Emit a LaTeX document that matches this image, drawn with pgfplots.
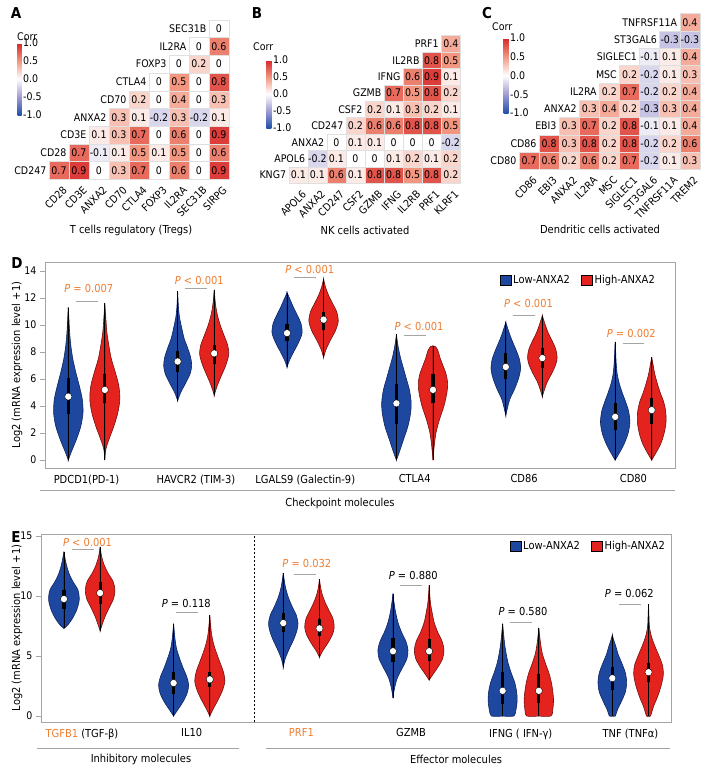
\documentclass[border=0pt]{standalone}
\usepackage{fontspec}
\setmainfont{DejaVu Sans Condensed}
\usepackage{pgfplots}
\usepackage{pgfplotstable}
\pgfplotsset{compat=1.18}
\definecolor{vblue}{RGB}{30,72,160}
\definecolor{vbluedk}{RGB}{15,35,95}
\definecolor{vred}{RGB}{228,35,30}
\definecolor{vreddk}{RGB}{115,15,15}
\definecolor{por}{RGB}{237,125,49}
\definecolor{frm}{RGB}{165,165,165}
\pgfkeys{/pgf/number format/assume math mode=true}
\pgfdeclareplotmark{cellA}{\pgfpathrectangle{\pgfpoint{-10pt}{-8.85pt}}{\pgfpoint{20pt}{17.7pt}}\pgfusepathqfillstroke}
\pgfdeclareplotmark{cellB}{\pgfpathrectangle{\pgfpoint{-9.525pt}{-8.2pt}}{\pgfpoint{19.05pt}{16.4pt}}\pgfusepathqfillstroke}
\pgfdeclareplotmark{cellC}{\pgfpathrectangle{\pgfpoint{-10.05pt}{-8.65pt}}{\pgfpoint{20.1pt}{17.3pt}}\pgfusepathqfillstroke}
\newcommand\pf{\fontsize{11}{13}\selectfont}
\newcommand\tf{\fontsize{10.5}{12}\selectfont}
\newcommand\violin[5]{%
 \addplot[fill=#3, draw=#4, line width=0.6pt, smooth] table[row sep=\\, x expr=#2+\thisrow{w}/109.5, y=y]{#5} -- cycle;
 \addplot[fill=#3, draw=#4, line width=0.6pt, smooth] table[row sep=\\, x expr=#2-\thisrow{w}/109.5, y=y]{#5} -- cycle;
}
\newcommand\vstat[6]{%
 \addplot[black, line width=0.7pt] coordinates {(#1,#2) (#1,#6)};
 \addplot[black, line width=3.2pt] coordinates {(#1,#3) (#1,#5)};
 \addplot[only marks, mark=*, mark size=3.6pt, mark options={fill=white, draw=none}] coordinates {(#1,#4)};
}
% correlation tables: x = column, y = row (0 = bottom), c = correlation
\pgfplotstableread{
x y c
0 0 0.7
1 0 0.9
2 0 0
3 0 0.3
4 0 0.7
5 0 0
6 0 0.6
7 0 0
8 0 0.9
1 1 0.7
2 1 -0.1
3 1 0.1
4 1 0.5
5 1 0.1
6 1 0.5
7 1 0
8 1 0.6
2 2 0.1
3 2 0.3
4 2 0.7
5 2 0
6 2 0.6
7 2 0
8 2 0.9
3 3 0.3
4 3 0.1
5 3 -0.2
6 3 0.3
7 3 -0.2
8 3 0.1
4 4 0.2
5 4 0
6 4 0.4
7 4 0
8 4 0.3
5 5 0
6 5 0.5
7 5 0
8 5 0.8
6 6 0
7 6 0.2
8 6 0
7 7 0
8 7 0.6
8 8 0
}\tabA
\pgfplotstableread{
x y c
0 0 0.1
1 0 0.1
2 0 0.6
3 0 0.1
4 0 0.8
5 0 0.8
6 0 0.5
7 0 0.8
8 0 0.2
1 1 -0.2
2 1 0.1
3 1 0
4 1 0
5 1 0.1
6 1 0.2
7 1 0.1
8 1 0.2
2 2 0
3 2 0.1
4 2 0.1
5 2 0
6 2 0
7 2 0
8 2 -0.2
3 3 0.2
4 3 0.6
5 3 0.6
6 3 0.8
7 3 0.8
8 3 0.5
4 4 0.2
5 4 0.1
6 4 0.3
7 4 0.2
8 4 0.1
5 5 0.7
6 5 0.5
7 5 0.8
8 5 0.2
6 6 0.6
7 6 0.9
8 6 0.1
7 7 0.8
8 7 0.5
8 8 0.4
}\tabB
\pgfplotstableread{
x y c
0 0 0.7
1 0 0.6
2 0 0.2
3 0 0.6
4 0 0.2
5 0 0.7
6 0 -0.2
7 0 0.1
8 0 0.3
1 1 0.8
2 1 0.3
3 1 0.8
4 1 0.2
5 1 0.8
6 1 -0.2
7 1 0.2
8 1 0.6
2 2 0.3
3 2 0.7
4 2 0.2
5 2 0.8
6 2 -0.1
7 2 0.1
8 2 0.4
3 3 0.3
4 3 0.4
5 3 0.2
6 3 -0.3
7 3 0.3
8 3 0.4
4 4 0.2
5 4 0.7
6 4 -0.2
7 4 0.2
8 4 0.4
5 5 0.2
6 5 -0.2
7 5 0.1
8 5 0.3
6 6 -0.1
7 6 0.1
8 6 0.4
7 7 -0.3
8 7 -0.3
8 8 0.4
}\tabC
\pgfplotsset{colormap={corr}{rgb255=(33,80,170) rgb255=(160,155,210) rgb255=(255,255,255) rgb255=(242,150,128) rgb255=(214,39,40)}}
\pgfplotsset{heat/.style={
  scale only axis, clip=false, anchor=south west,
  xmin=-0.5, xmax=8.5, ymin=-0.5, ymax=8.5,
  axis line style={draw=none}, major tick length=0pt,
  ytick=\empty, xtick={0,...,8},
  xticklabel style={xshift=6pt, yshift=-9pt, rotate=45, anchor=east, inner sep=0pt, font=\tf},
  colormap name=corr, point meta min=-1, point meta max=1,
  colorbar,
  colorbar style={scale only axis, ytick={-1,-0.5,0,0.5,1}, yticklabels={-1.0,-0.5,0.0,0.5,1.0},
    yticklabel pos=right, major tick length=0pt, axis line style={draw=none},
    yticklabel style={inner sep=1.5pt, font=\tf}, anchor=north west, at={(parent axis.south west)}},
}}
\pgfplotsset{hcell/.style={scatter, only marks, point meta=explicit,
  scatter/use mapped color={draw=black!12, fill=mapped color}}}
\pgfplotsset{htext/.style={draw=none, mark=none, point meta=explicit,
  nodes near coords={\pgfmathprintnumber[fixed,precision=1]{\pgfplotspointmeta}},
  every node near coord/.append style={anchor=center, text=black, font=\tf}}}
\pgfplotsset{vio/.style={scale only axis, anchor=south west, clip=false,
  axis line style={frm, line width=0.8pt},
  tick align=outside, ytick pos=left, major tick length=5pt,
  tick style={frm, line width=0.8pt},
  xtick={0,...,5}, xtick style={draw=none},
  xticklabel style={font=\pf, yshift=2pt},
  yticklabel style={font=\tf},
  legend cell align=left,
  legend style={draw=none, fill=none, legend columns=2, anchor=north east, font=\pf,
    /tikz/every even column/.append style={column sep=9pt}},
}}
\begin{document}
\tf
\begin{tikzpicture}
\useasboundingbox (0pt,0pt) rectangle (710pt,-772pt);
% ---------------- A
\begin{axis}[heat, at={(49pt,-179.2pt)}, width=180pt, height=159.3pt,
  xticklabels={CD28,CD3E,ANXA2,CD70,CTLA4,FOXP3,IL2RA,SEC31B,SIRPG},
  colorbar style={xshift=-40pt, yshift=136.2pt, width=4pt, height=72pt}]
\addplot[hcell, mark=cellA] table[meta=c]{\tabA};
\addplot[htext] table[meta=c]{\tabA};
\node[anchor=east, inner sep=2.5pt] at (axis cs:-0.5,0) {CD247};
\node[anchor=east, inner sep=2.5pt] at (axis cs:0.5,1) {CD28};
\node[anchor=east, inner sep=2.5pt] at (axis cs:1.5,2) {CD3E};
\node[anchor=east, inner sep=2.5pt] at (axis cs:2.5,3) {ANXA2};
\node[anchor=east, inner sep=2.5pt] at (axis cs:3.5,4) {CD70};
\node[anchor=east, inner sep=2.5pt] at (axis cs:4.5,5) {CTLA4};
\node[anchor=east, inner sep=2.5pt] at (axis cs:5.5,6) {FOXP3};
\node[anchor=east, inner sep=2.5pt] at (axis cs:6.5,7) {IL2RA};
\node[anchor=east, inner sep=2.5pt] at (axis cs:7.5,8) {SEC31B};
\end{axis}
% ---------------- B
\begin{axis}[heat, at={(288.8pt,-183.2pt)}, width=171.5pt, height=147.6pt,
  xticklabels={APOL6,ANXA2,CD247,CSF2,GZMB,IFNG,IL2RB,PRF1,KLRF1},
  colorbar style={xshift=-31pt, yshift=123.2pt, width=5pt, height=68pt}]
\addplot[hcell, mark=cellB] table[meta=c]{\tabB};
\addplot[htext] table[meta=c]{\tabB};
\node[anchor=east, inner sep=2.5pt] at (axis cs:-0.5,0) {KNG7};
\node[anchor=east, inner sep=2.5pt] at (axis cs:0.5,1) {APOL6};
\node[anchor=east, inner sep=2.5pt] at (axis cs:1.5,2) {ANXA2};
\node[anchor=east, inner sep=2.5pt] at (axis cs:2.5,3) {CD247};
\node[anchor=east, inner sep=2.5pt] at (axis cs:3.5,4) {CSF2};
\node[anchor=east, inner sep=2.5pt] at (axis cs:4.5,5) {GZMB};
\node[anchor=east, inner sep=2.5pt] at (axis cs:5.5,6) {IFNG};
\node[anchor=east, inner sep=2.5pt] at (axis cs:6.5,7) {IL2RB};
\node[anchor=east, inner sep=2.5pt] at (axis cs:7.5,8) {PRF1};
\end{axis}
% ---------------- C
\begin{axis}[heat, at={(519pt,-169.35pt)}, width=180.9pt, height=155.7pt,
  xticklabels={CD86,EBI3,ANXA2,IL2RA,MSC,SIGLEC1,ST3GAL6,TNFRSF11A,TREM2},
  colorbar style={xshift=-24pt, yshift=131.35pt, width=5pt, height=75pt}]
\addplot[hcell, mark=cellC] table[meta=c]{\tabC};
\addplot[htext] table[meta=c]{\tabC};
\node[anchor=east, inner sep=2.5pt] at (axis cs:-0.5,0) {CD80};
\node[anchor=east, inner sep=2.5pt] at (axis cs:0.5,1) {CD86};
\node[anchor=east, inner sep=2.5pt] at (axis cs:1.5,2) {EBI3};
\node[anchor=east, inner sep=2.5pt] at (axis cs:2.5,3) {ANXA2};
\node[anchor=east, inner sep=2.5pt] at (axis cs:3.5,4) {IL2RA};
\node[anchor=east, inner sep=2.5pt] at (axis cs:4.5,5) {MSC};
\node[anchor=east, inner sep=2.5pt] at (axis cs:5.5,6) {SIGLEC1};
\node[anchor=east, inner sep=2.5pt] at (axis cs:6.5,7) {ST3GAL6};
\node[anchor=east, inner sep=2.5pt] at (axis cs:7.5,8) {TNFRSF11A};
\end{axis}
% ---------------- D
\begin{axis}[vio, at={(45pt,-468pt)}, width=630pt, height=206pt,
  xmin=-0.38, xmax=5.38, ymin=-0.59, ymax=14.67, ytick={0,2,...,14},
  xticklabels={PDCD1(PD-1), HAVCR2 (TIM-3), LGALS9 (Galectin-9), CTLA4, CD86, CD80},
  legend style={at={(1,1)}, xshift=-15pt, yshift=-9pt}]
\addlegendimage{legend image code/.code={\draw[fill=vblue, draw=black, line width=0.7pt] (0pt,-5pt) rectangle (11pt,5pt);}}
\addlegendentry{Low-ANXA2}
\addlegendimage{legend image code/.code={\draw[fill=vred, draw=black, line width=0.7pt] (0pt,-5pt) rectangle (11pt,5pt);}}
\addlegendentry{High-ANXA2}
\violin{a1}{-0.167}{vblue}{vbluedk}{y w\\ 0 0\\ 0.6 3\\ 1.5 8\\ 2.5 12.5\\ 3.5 14.7\\ 4.5 14\\ 5.5 11\\ 6.5 7.5\\ 7.5 4.5\\ 8.5 2.5\\ 9.5 1.3\\ 10.5 0.6\\ 11.3 0\\}
\vstat{-0.167}{0}{3.4}{4.7}{6.1}{11.3}
\violin{a2}{0.167}{vred}{vreddk}{y w\\ 0 0\\ 0.8 1\\ 1.5 4\\ 2.5 9\\ 3.5 13\\ 4.5 15\\ 5.5 14\\ 6.5 10.5\\ 7.5 6.5\\ 8.5 4\\ 9.5 2\\ 10.5 1\\ 11.6 0\\}
\vstat{0.167}{0}{4.2}{5.2}{6.4}{11.6}
\violin{b1}{0.833}{vblue}{vbluedk}{y w\\ 4.4 0\\ 5.0 3\\ 5.7 8\\ 6.4 12.5\\ 7.0 14\\ 7.6 13\\ 8.3 10\\ 9.0 6.5\\ 9.8 4\\ 10.5 2\\ 11.3 0.8\\ 12.5 0\\}
\vstat{0.833}{4.4}{6.5}{7.3}{8.1}{12.5}
\violin{b2}{1.167}{vred}{vreddk}{y w\\ 4.8 0\\ 5.5 3\\ 6.3 7.5\\ 7.0 11.5\\ 7.8 14.5\\ 8.5 13.5\\ 9.2 10\\ 10.0 6\\ 10.8 3\\ 11.6 1.2\\ 12.6 0\\}
\vstat{1.167}{4.8}{7.1}{7.9}{8.5}{12.6}
\violin{c1}{1.833}{vblue}{vbluedk}{y w\\ 6.9 0\\ 7.4 2.5\\ 8.0 6.5\\ 8.7 11.5\\ 9.4 15\\ 10.1 14\\ 10.7 10.5\\ 11.3 6.5\\ 11.9 3\\ 12.4 0\\}
\vstat{1.833}{6.9}{8.8}{9.4}{10.1}{12.4}
\violin{c2}{2.167}{vred}{vreddk}{y w\\ 7.6 0\\ 8.2 2.5\\ 8.9 7\\ 9.6 12\\ 10.3 14.7\\ 11.0 13\\ 11.6 9\\ 12.2 5\\ 12.8 2\\ 13.4 0\\}
\vstat{2.167}{7.6}{9.6}{10.4}{11.0}{13.4}
\violin{d1}{2.833}{vblue}{vbluedk}{y w\\ 0 0\\ 0.6 3\\ 1.5 7\\ 2.5 11.5\\ 3.5 14.2\\ 4.3 14.7\\ 5.2 13\\ 6.0 10\\ 6.8 7\\ 7.6 4\\ 8.5 1.5\\ 9.3 0\\}
\vstat{2.833}{0}{2.7}{4.2}{5.6}{9.3}
\violin{d2}{3.167}{vred}{vreddk}{y w\\ 0 0\\ 1.0 1.2\\ 2.0 3\\ 3.0 6.5\\ 4.0 11\\ 5.0 14\\ 5.7 14.7\\ 6.4 13\\ 7.0 10\\ 7.6 7\\ 8.1 5\\ 8.4 2.5\\ 8.45 0\\}
\vstat{3.167}{0}{4.2}{5.2}{6.4}{8.45}
\violin{e1}{3.833}{vblue}{vbluedk}{y w\\ 3.3 0\\ 3.8 1.5\\ 4.5 4\\ 5.3 9\\ 6.1 13\\ 6.8 14.8\\ 7.5 13.5\\ 8.2 10\\ 8.9 6\\ 9.5 3\\ 10.2 0\\}
\vstat{3.833}{3.3}{6.0}{6.9}{7.9}{10.2}
\violin{e2}{4.167}{vred}{vreddk}{y w\\ 4.7 0\\ 5.2 2\\ 5.8 5\\ 6.5 10\\ 7.1 13.5\\ 7.6 14.8\\ 8.2 13.5\\ 8.8 10\\ 9.4 6\\ 10.0 3\\ 10.7 0\\}
\vstat{4.167}{4.7}{6.8}{7.55}{8.3}{10.7}
\violin{f1}{4.833}{vblue}{vbluedk}{y w\\ 0 0\\ 0.5 4\\ 1.2 9\\ 2.0 13\\ 2.8 14.7\\ 3.6 13.5\\ 4.3 10.5\\ 5.0 7\\ 5.7 4\\ 6.4 2\\ 7.2 1\\ 8.0 0.5\\ 8.75 0\\}
\vstat{4.833}{0}{2.2}{3.2}{4.2}{8.75}
\violin{f2}{5.167}{vred}{vreddk}{y w\\ 0 0\\ 0.5 4\\ 1.2 9\\ 2.0 12.5\\ 2.8 14.3\\ 3.6 14\\ 4.3 12\\ 5.0 8.5\\ 5.7 5.5\\ 6.4 3\\ 7.0 1.5\\ 7.6 0\\}
\vstat{5.167}{0}{2.7}{3.7}{4.6}{7.6}
\addplot[frm, line width=0.8pt] coordinates {(-0.1,11.78) (0.1,11.78)};
\addplot[frm, line width=0.8pt] coordinates {(0.9,12.74) (1.1,12.74)};
\addplot[frm, line width=0.8pt] coordinates {(1.9,13.56) (2.1,13.56)};
\addplot[frm, line width=0.8pt] coordinates {(2.9,9.26) (3.1,9.26)};
\addplot[frm, line width=0.8pt] coordinates {(3.9,10.74) (4.1,10.74)};
\addplot[frm, line width=0.8pt] coordinates {(4.9,8.67) (5.1,8.67)};
\node[text=por, font=\pf] at (axis cs:0.02,12.7) {\textit{P} = 0.007};
\node[text=por, font=\pf] at (axis cs:1.03,13.3) {\textit{P} < 0.001};
\node[text=por, font=\pf] at (axis cs:2.04,14.15) {\textit{P} < 0.001};
\node[text=por, font=\pf] at (axis cs:3.04,9.9) {\textit{P} < 0.001};
\node[text=por, font=\pf] at (axis cs:4.04,11.56) {\textit{P} < 0.001};
\node[text=por, font=\pf] at (axis cs:4.98,9.4) {\textit{P} = 0.002};
\end{axis}
% ---------------- E
\begin{axis}[vio, at={(41pt,-722pt)}, width=630pt, height=188pt,
  xmin=-0.374, xmax=5.37, ymin=-0.5, ymax=15.17, ytick={0,5,10,15},
  xticklabels={{\textcolor{por}{TGFB1} (TGF-β)}, IL10, {\textcolor{por}{PRF1}}, GZMB, {IFNG ( IFN-γ)}, {TNF (TNFα)}},
  legend style={at={(1,1)}, xshift=-1pt, yshift=-3pt}]
\addlegendimage{legend image code/.code={\draw[fill=vblue, draw=black, line width=0.7pt] (0pt,-5pt) rectangle (11pt,5pt);}}
\addlegendentry{Low-ANXA2}
\addlegendimage{legend image code/.code={\draw[fill=vred, draw=black, line width=0.7pt] (0pt,-5pt) rectangle (11pt,5pt);}}
\addlegendentry{High-ANXA2}
\addplot[black, line width=1pt, dash pattern=on 2pt off 2pt] coordinates {(1.57,-0.5) (1.57,15.17)};
\violin{g1}{-0.165}{vblue}{vbluedk}{y w\\ 7.3 0\\ 7.6 4\\ 8.2 9\\ 8.9 13\\ 9.7 15.3\\ 10.5 14\\ 11.2 9\\ 11.9 5\\ 12.6 2.5\\ 13.2 1\\ 13.7 0\\}
\vstat{-0.165}{7.3}{8.9}{9.75}{10.5}{13.7}
\violin{g2}{0.165}{vred}{vreddk}{y w\\ 7.1 0\\ 7.6 2\\ 8.3 5\\ 9.1 9.5\\ 9.8 13.5\\ 10.5 14.8\\ 11.2 13\\ 11.9 8\\ 12.6 4\\ 13.3 1.5\\ 14.1 0\\}
\vstat{0.165}{7.1}{9.3}{10.25}{11.2}{14.1}
\violin{h1}{0.835}{vblue}{vbluedk}{y w\\ 0 0\\ 0.5 4\\ 1.2 9.5\\ 1.9 13.5\\ 2.6 15\\ 3.3 13\\ 4.0 9.5\\ 4.8 6\\ 5.6 3\\ 6.5 1.3\\ 7.7 0\\}
\vstat{0.835}{0}{1.8}{2.75}{3.7}{7.7}
\violin{h2}{1.165}{vred}{vreddk}{y w\\ 0 0\\ 0.6 3.5\\ 1.3 8\\ 2.1 12.5\\ 2.9 15\\ 3.7 13.5\\ 4.5 10\\ 5.3 6.5\\ 6.1 3.5\\ 7.0 1.5\\ 8.4 0\\}
\vstat{1.165}{0}{2.4}{3.05}{3.7}{8.4}
\violin{i1}{1.835}{vblue}{vbluedk}{y w\\ 4.1 0\\ 4.8 2\\ 5.6 6\\ 6.4 10.5\\ 7.1 13.5\\ 7.7 14.7\\ 8.4 13\\ 9.1 9\\ 9.9 5\\ 10.8 2\\ 11.9 0\\}
\vstat{1.835}{4.1}{7.0}{7.75}{8.6}{11.9}
\violin{i2}{2.165}{vred}{vreddk}{y w\\ 4.9 0\\ 5.4 3\\ 6.1 8.5\\ 6.8 13\\ 7.4 14.7\\ 8.1 13.5\\ 8.8 9.5\\ 9.5 5.5\\ 10.2 2.5\\ 10.8 1\\ 11.4 0\\}
\vstat{2.165}{4.9}{6.7}{7.3}{8.1}{11.4}
\violin{j1}{2.835}{vblue}{vbluedk}{y w\\ 1.5 0\\ 2.3 1.5\\ 3.2 4.5\\ 4.1 10\\ 4.8 14\\ 5.5 15\\ 6.2 13\\ 7.0 8.5\\ 7.8 5\\ 8.7 2.5\\ 9.5 1\\ 10.2 0\\}
\vstat{2.835}{1.5}{4.5}{5.4}{6.5}{10.2}
\violin{j2}{3.165}{vred}{vreddk}{y w\\ 3.0 0\\ 3.5 4\\ 4.1 9\\ 4.8 13.5\\ 5.5 14.8\\ 6.2 13\\ 7.0 8.5\\ 7.8 5\\ 8.6 3\\ 9.5 1.2\\ 10.9 0\\}
\vstat{3.165}{3.0}{4.6}{5.4}{6.4}{10.9}
\violin{k1}{3.835}{vblue}{vbluedk}{y w\\ 0 0\\ 0 11\\ 0.6 13.5\\ 1.3 14.5\\ 2.0 14\\ 2.8 12\\ 3.6 8.5\\ 4.4 5.5\\ 5.2 3.5\\ 6.0 2\\ 6.8 1\\ 7.7 0\\}
\vstat{3.835}{0}{1.0}{2.1}{3.7}{7.7}
\violin{k2}{4.165}{vred}{vreddk}{y w\\ 0 0\\ 0 12\\ 0.6 14\\ 1.3 14.7\\ 2.0 14\\ 2.8 12.5\\ 3.6 10\\ 4.4 6.5\\ 5.2 3.5\\ 6.0 1.8\\ 6.7 0.8\\ 7.35 0\\}
\vstat{4.165}{0}{1.1}{2.1}{3.5}{7.35}
\violin{l1}{4.835}{vblue}{vbluedk}{y w\\ 0 0\\ 0 3\\ 0.5 5\\ 1.2 9\\ 2.0 13\\ 2.8 14.3\\ 3.6 13\\ 4.4 9.5\\ 5.1 6\\ 5.8 3.5\\ 6.3 1.5\\ 6.75 0\\}
\vstat{4.835}{0}{2.2}{3.15}{4.1}{6.75}
\violin{l2}{5.165}{vred}{vreddk}{y w\\ 0 0\\ 0 2\\ 0.8 5\\ 1.6 9\\ 2.5 12.5\\ 3.4 14.7\\ 4.2 14\\ 5.0 10.5\\ 5.8 6.5\\ 6.6 3\\ 7.4 1\\ 8.2 0.5\\ 9.3 0\\}
\vstat{5.165}{0}{2.8}{3.65}{4.4}{9.3}
\addplot[frm, line width=0.8pt] coordinates {(-0.09,13.9) (0.11,13.9)};
\addplot[frm, line width=0.8pt] coordinates {(0.86,8.6) (1.06,8.6)};
\addplot[frm, line width=0.8pt] coordinates {(1.93,11.8) (2.13,11.8)};
\addplot[frm, line width=0.8pt] coordinates {(2.9,10.9) (3.1,10.9)};
\addplot[frm, line width=0.8pt] coordinates {(3.9,7.8) (4.1,7.8)};
\addplot[frm, line width=0.8pt] coordinates {(4.9,9.3) (5.1,9.3)};
\node[text=por, font=\pf] at (axis cs:0.05,14.5) {\textit{P} < 0.001};
\node[font=\pf] at (axis cs:0.95,9.4) {\textit{P} = 0.118};
\node[text=por, font=\pf] at (axis cs:2.05,12.7) {\textit{P} = 0.032};
\node[font=\pf] at (axis cs:3.02,11.7) {\textit{P} = 0.880};
\node[font=\pf] at (axis cs:4.02,8.75) {\textit{P} = 0.580};
\node[font=\pf] at (axis cs:4.99,10.2) {\textit{P} = 0.062};
\end{axis}
% ---------------- annotations
\node[font=\bfseries\fontsize{15}{15}\selectfont] at (16pt,-13pt) {A};
\node[font=\bfseries\fontsize{15}{15}\selectfont] at (257pt,-13pt) {B};
\node[font=\bfseries\fontsize{15}{15}\selectfont] at (487pt,-13pt) {C};
\node[font=\bfseries\fontsize{15}{15}\selectfont] at (17pt,-263pt) {D};
\node[font=\bfseries\fontsize{15}{15}\selectfont] at (16pt,-537pt) {E};
\node[anchor=west, inner sep=0pt] at (17pt,-37pt) {Corr};
\node[anchor=west, inner sep=0pt] at (253pt,-47pt) {Corr};
\node[anchor=west, inner sep=0pt] at (492pt,-27pt) {Corr};
\node[font=\pf] at (131pt,-230pt) {T cells regulatory (Tregs)};
\node[font=\pf] at (365pt,-230pt) {NK cells activated};
\node[font=\pf] at (600pt,-229pt) {Dendritic cells activated};
\node[font=\pf, rotate=90] at (17pt,-365pt) {Log2 (mRNA expression level +1)};
\node[font=\pf, rotate=90] at (17pt,-628pt) {Log2 (mRNA expression level +1)};
\draw[frm, line width=0.8pt] (40pt,-490pt) -- (675pt,-490pt);
\node[font=\pf] at (340pt,-503pt) {Checkpoint molecules};
\draw[frm, line width=0.8pt] (37pt,-748pt) -- (239pt,-748pt);
\draw[frm, line width=0.8pt] (266pt,-748pt) -- (670pt,-748pt);
\node[font=\pf] at (141pt,-759pt) {Inhibitory molecules};
\node[font=\pf] at (456pt,-759pt) {Effector molecules};
\end{tikzpicture}
\end{document}
